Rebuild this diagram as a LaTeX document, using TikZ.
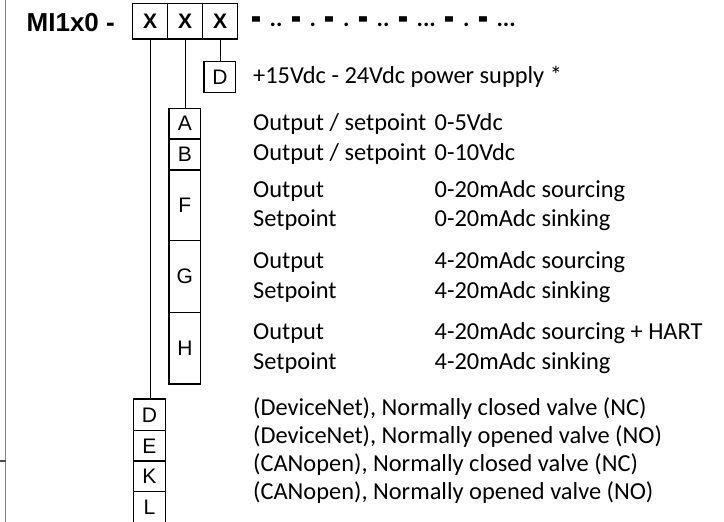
\documentclass[tikz,border=0pt]{standalone}
\usepackage{fontspec}
\newfontfamily\calfont{Carlito}
\newfontfamily\arialfont{Liberation Sans}
\newcommand\dgap{\hspace{8.6pt}}
\newcommand\dsh{\raisebox{-7.8pt}{\scalebox{1.35}[2.2]{-}}}
\begin{document}
\begin{tikzpicture}[x=1pt,y=-1pt]
\tikzset{
 xbox/.style={draw, line width=1.4, minimum width=35, minimum height=35.5, inner sep=0, font=\arialfont\bfseries\fontsize{21}{21}\selectfont},
 lbox/.style={draw, line width=1.4, inner sep=0, minimum width=31.7, font=\arialfont\fontsize{21}{21}\selectfont},
 txt/.style={anchor=base west, inner sep=0, font=\calfont\fontsize{24.4}{28}\selectfont},
 wire/.style={line width=1.4},
 frameline/.style={draw=gray, line width=1.5}
}
\useasboundingbox (0,0) rectangle (724,522);
% left frame fragment
\coordinate (ft) at (5.7,0);
\coordinate (fb) at (5.7,524);
\coordinate (tk0) at (0,461);
\coordinate (tk1) at (5.7,461);
\draw[frameline] (ft) -- (fb);
\draw[draw=black!70, line width=1.2] (tk0) -- (tk1);

% title
\node[anchor=base west, inner sep=0, font=\arialfont\bfseries\fontsize{26}{26}\selectfont] (title) at (26.5,31.7) {MI1x0 -};
\node[xbox] (X1) at (150.2,21.25) {X};
\node[xbox] (X2) at (185.2,21.25) {X};
\node[xbox] (X3) at (220.2,21.25) {X};
\node[anchor=base west, inner sep=0, font=\calfont\bfseries\fontsize{24}{28}\selectfont] (dots) at (251,26.7) {\dsh\dgap..\dgap\dsh\dgap.\dgap\dsh\dgap.\dgap\dsh\dgap..\dgap\dsh\dgap...\dgap\dsh\dgap.\dgap\dsh\dgap...};

% power supply
\node[lbox, minimum height=31] (Dp) at (219.9,77.2) {D};
\node[txt] (tp) at (253,83.3) {+15Vdc - 24Vdc power supply *};

% output column
\node[lbox, minimum width=31.7, minimum height=30.7] (A) at (184.9,123.65) {A};
\node[lbox, minimum height=31] (B) at (184.9,154.5) {B};
\node[lbox, minimum height=70.7] (F) at (184.9,205.35) {F};
\node[lbox, minimum height=72] (G) at (184.9,276.7) {G};
\node[lbox, minimum height=71.3] (H) at (184.9,348.35) {H};

\node[txt] (tA1) at (253,130.5) {Output / setpoint};
\node[txt] (tA2) at (434.5,130.5) {0-5Vdc};
\node[txt] (tB1) at (253,160) {Output / setpoint};
\node[txt] (tB2) at (434.5,160) {0-10Vdc};
\node[txt] (tF1) at (253,197) {Output};
\node[txt] (tF2) at (434.5,197) {0-20mAdc sourcing};
\node[txt] (tF3) at (253,226) {Setpoint};
\node[txt] (tF4) at (434.5,226) {0-20mAdc sinking};
\node[txt] (tG1) at (253,268) {Output};
\node[txt] (tG2) at (434.5,268) {4-20mAdc sourcing};
\node[txt] (tG3) at (253,298) {Setpoint};
\node[txt] (tG4) at (434.5,298) {4-20mAdc sinking};
\node[txt] (tH1) at (253,339) {Output};
\node[txt] (tH2) at (434.5,339) {4-20mAdc sourcing + HART};
\node[txt] (tH3) at (253,369) {Setpoint};
\node[txt] (tH4) at (434.5,369) {4-20mAdc sinking};

% valve column
\node[lbox, minimum width=32.4, minimum height=31.7] (D) at (149.5,414.85) {D};
\node[lbox, minimum width=32.4, minimum height=30.3] (E) at (149.5,445.85) {E};
\node[lbox, minimum width=32.4, minimum height=30.7] (K) at (149.5,476.35) {K};
\node[lbox, minimum width=32.4, minimum height=36] (L) at (149.5,509.7) {};
\node[inner sep=0, font=\arialfont\fontsize{21}{21}\selectfont] (Ll) at (149.5,507.35) {L};

\node[txt] (tD) at (253,415) {(DeviceNet), Normally closed valve (NC)};
\node[txt] (tE) at (253,443) {(DeviceNet), Normally opened valve (NO)};
\node[txt] (tK) at (253,471) {(CANopen), Normally closed valve (NC)};
\node[txt] (tL) at (253,499) {(CANopen), Normally opened valve (NO)};

% connectors
\draw[wire] (X1.south) -- (X1.south |- D.north);
\draw[wire] (X2.south) -- (X2.south |- A.north);
\draw[wire] (X3.south) -- (X3.south |- Dp.north);
\end{tikzpicture}
\end{document}
